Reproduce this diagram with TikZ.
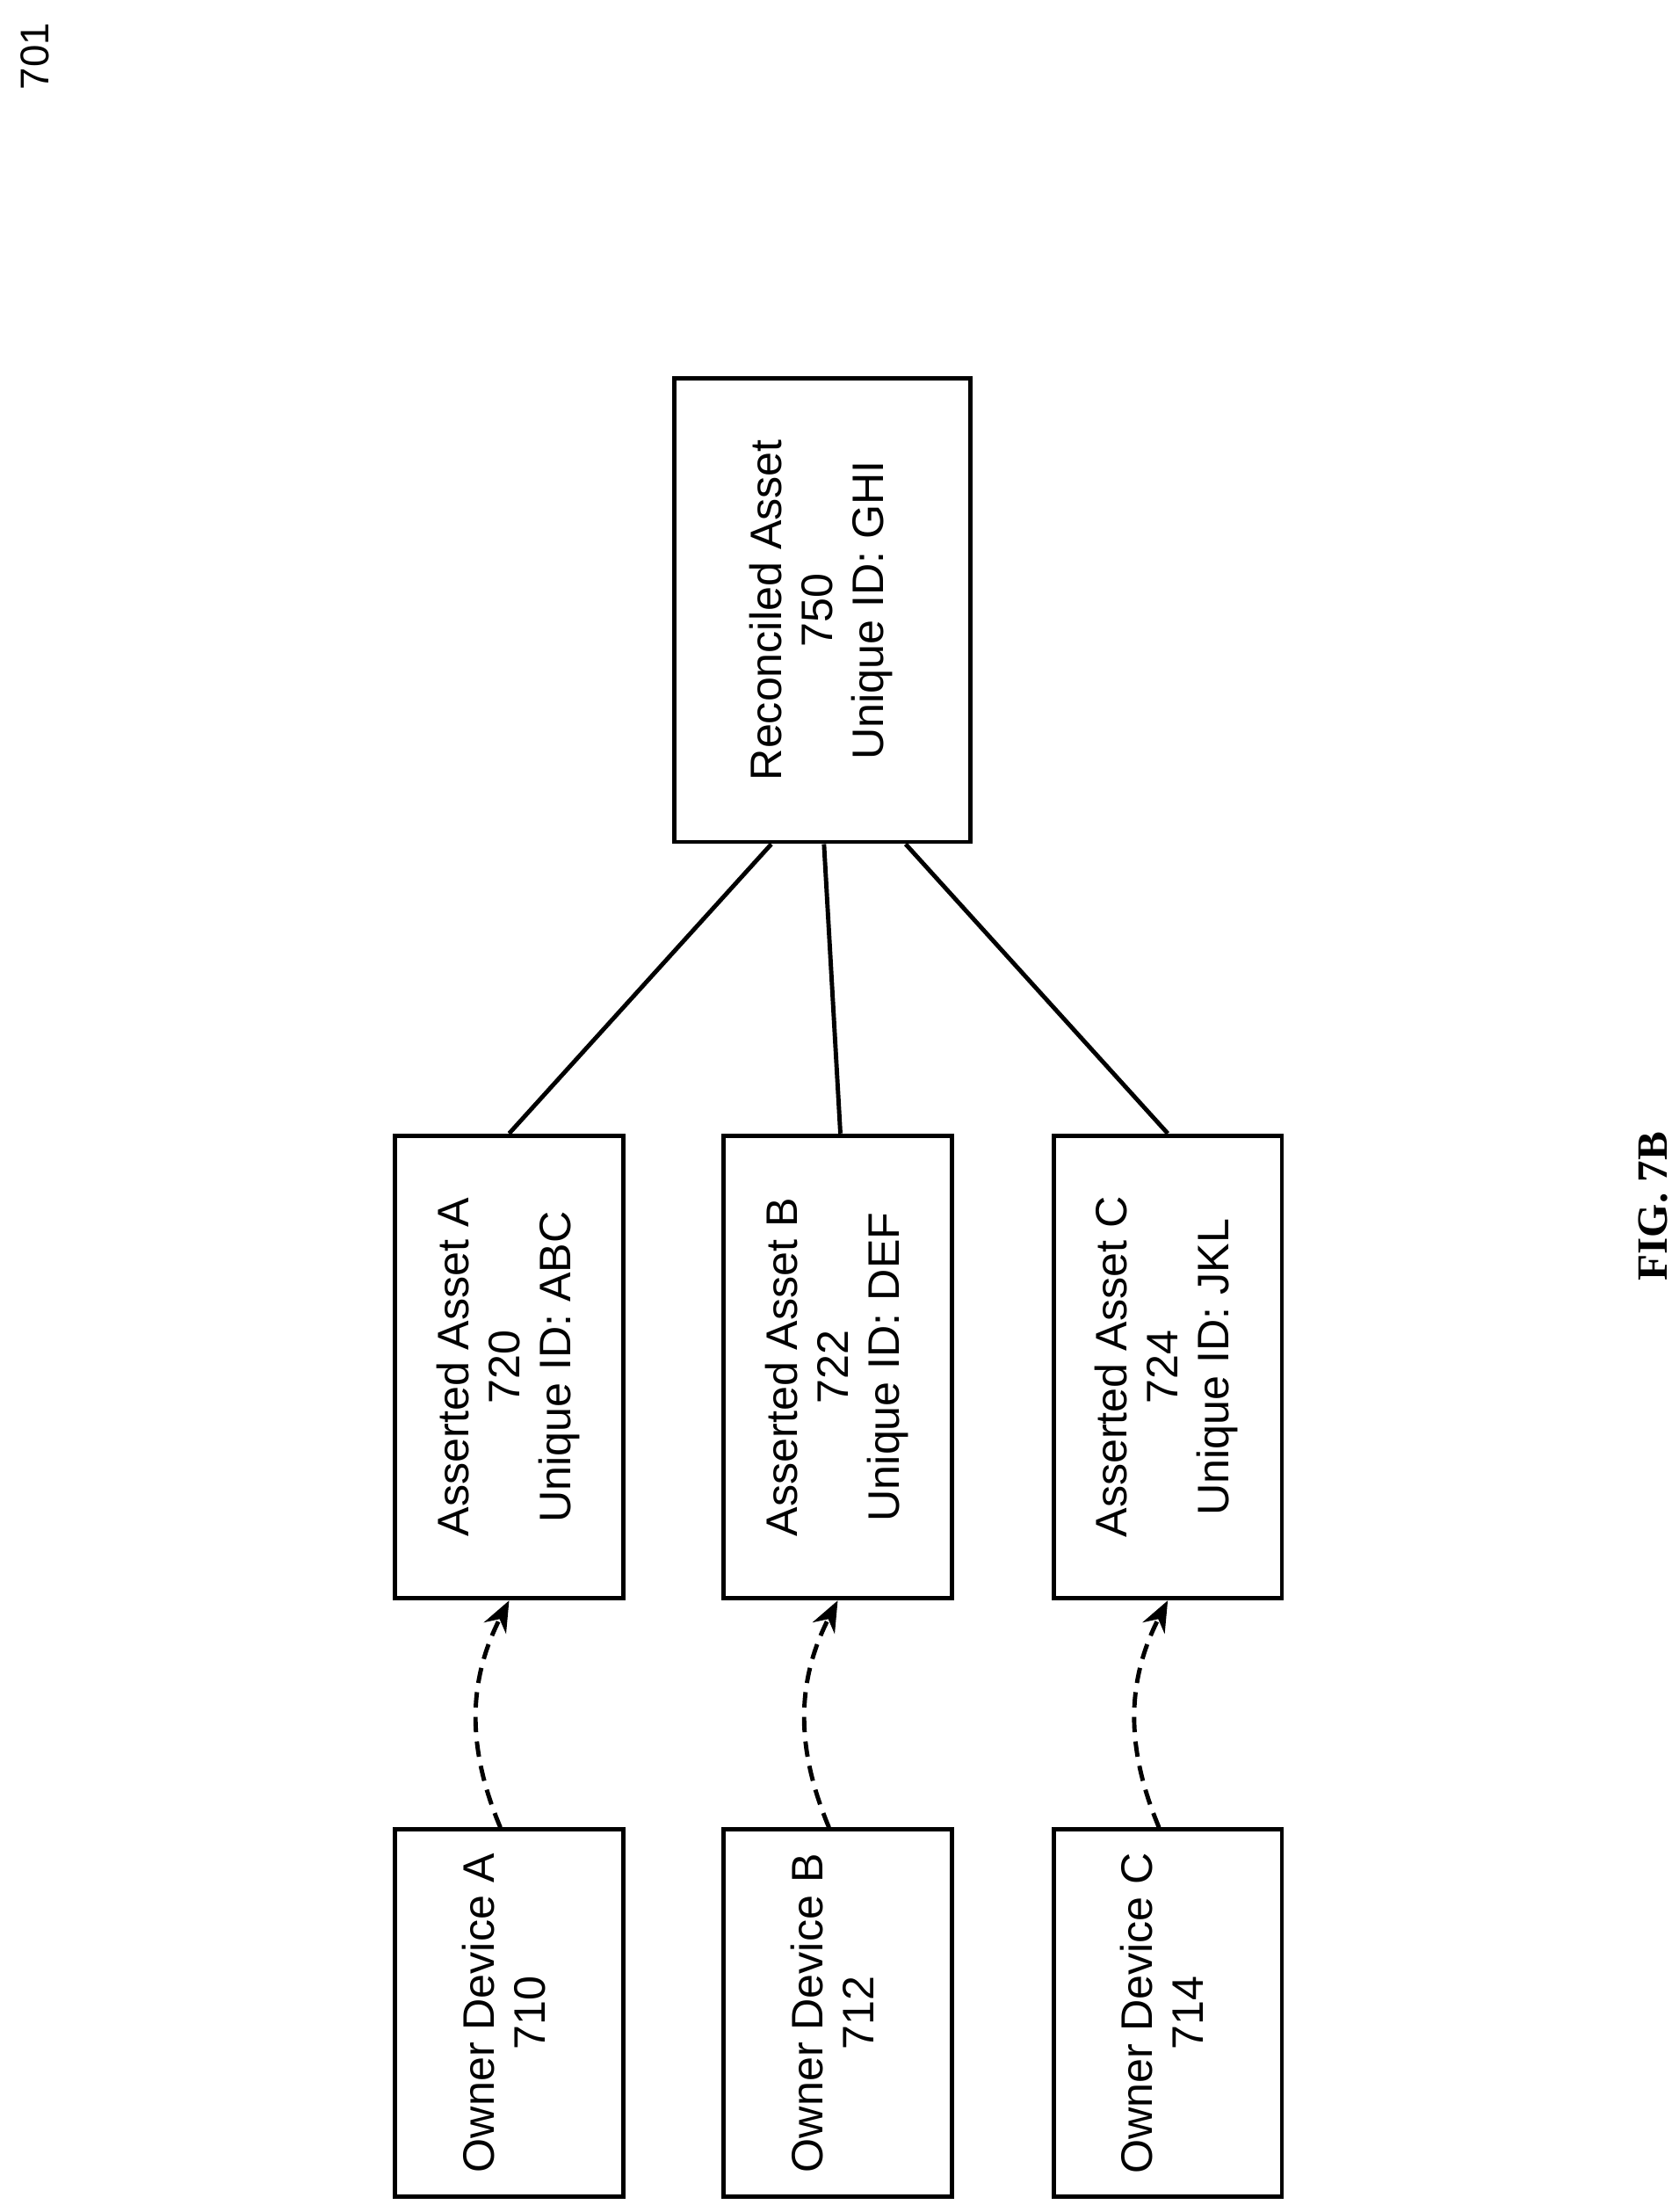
\documentclass[tikz,border=0pt]{standalone}
\usepackage{fontspec}
\setmainfont{Liberation Sans}
\newfontfamily\figfont{Liberation Serif}
\usetikzlibrary{arrows.meta}
\begin{document}
\begin{tikzpicture}[x=0.01606cm,y=-0.01606cm,
  box/.style={draw,line width=1.4pt,inner sep=0pt},
  txt/.style={font=\fontsize{14.3}{16.5}\selectfont},
  link/.style={line width=1.4pt},
  feed/.style={line width=1.4pt,dash pattern=on 5pt off 3pt,-{Stealth[length=10pt,width=8pt]},bend left=25}]
\useasboundingbox (0,0) rectangle (1190,1568);
\newcommand{\rtext}[1]{\rotatebox{90}{\begin{tabular}{c}#1\end{tabular}}}

\node(r750) at (583,432.5)[box,minimum width=3.37cm,minimum height=5.28cm,txt]{\rtext{Reconciled Asset\\750\\Unique ID: GHI}};

\node(a720) at (361,969)[box,minimum width=2.6cm,minimum height=5.27cm,txt]{\rtext{Asserted Asset A\\720\\Unique ID: ABC}};
\node(a722) at (594,969)[box,minimum width=2.6cm,minimum height=5.27cm,txt]{\rtext{Asserted Asset B\\722\\Unique ID: DEF}};
\node(a724) at (828,969)[box,minimum width=2.6cm,minimum height=5.27cm,txt]{\rtext{Asserted Asset C\\724\\Unique ID: JKL}};

\node(o710) at (361,1427)[box,minimum width=2.6cm,minimum height=4.18cm,txt]{\rtext{Owner Device A\\710}};
\node(o712) at (594,1427)[box,minimum width=2.6cm,minimum height=4.18cm,txt]{\rtext{Owner Device B\\712}};
\node(o714) at (828,1427)[box,minimum width=2.6cm,minimum height=4.18cm,txt]{\rtext{Owner Device C\\714}};

\node(n701) at (25,40)[font=\fontsize{13}{15}\selectfont,rotate=90]{701};
\node(fig) at (1172,855)[font=\figfont\bfseries\fontsize{14}{16}\selectfont,rotate=90]{FIG. 7B};

\draw[link] ([xshift=-0.58cm]r750.south) -- (a720.north);
\draw[link] ([xshift=0.02cm]r750.south) -- ([xshift=0.03cm]a722.north);
\draw[link] ([xshift=0.95cm]r750.south) -- (a724.north);

\draw[feed] ([xshift=-0.1cm]o710.north) to (a720.south);
\draw[feed] ([xshift=-0.1cm]o712.north) to (a722.south);
\draw[feed] ([xshift=-0.1cm]o714.north) to (a724.south);
\end{tikzpicture}
\end{document}
